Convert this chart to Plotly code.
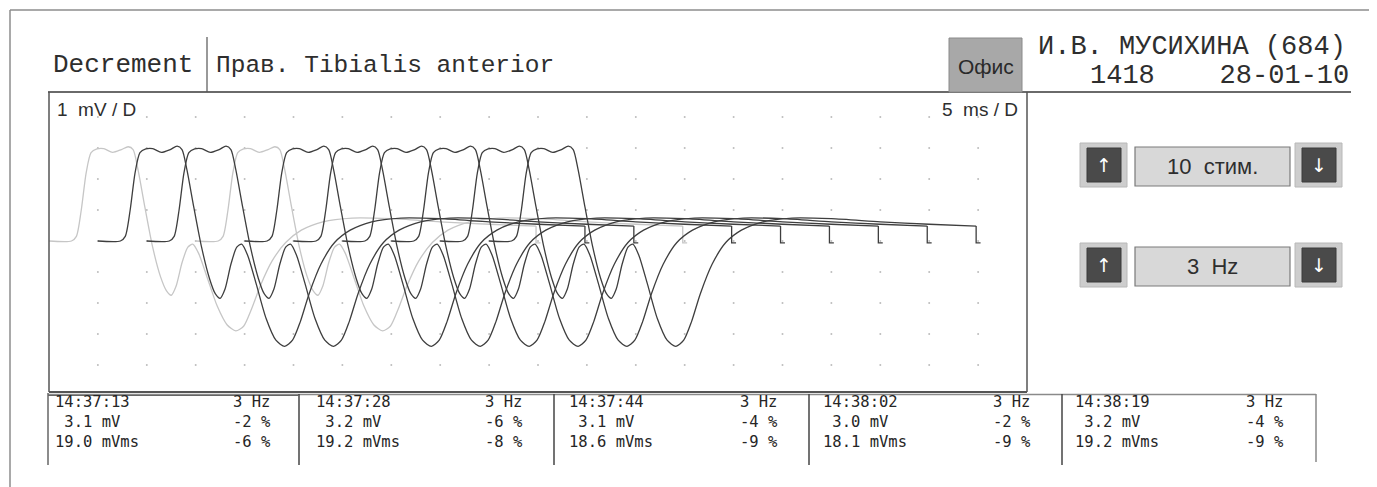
import plotly.graph_objects as go

W, H = 1377, 487
PAGE_OFF = 8                     # browser body margin
FIG_W, FIG_H = W - PAGE_OFF, H - PAGE_OFF

# ---------------- data ----------------
N_STIM = 10                 # number of superimposed responses
SHIFT_MS = 5.0              # cascade shift between successive responses (ms)
LIGHT_TRACES = [0, 3]       # responses drawn in light grey

# one M-response, time relative to its own start (ms) and amplitude (mV)
RESP_T = [0.0, 2.3, 2.8, 3.3, 3.8, 4.3, 4.9, 5.6, 6.5, 7.4, 8.1, 8.6, 9.1, 9.8,
          10.6, 11.4, 12.0, 12.5, 13.0, 13.6, 14.2, 14.7, 15.3, 16.2, 17.2, 18.2,
          19.1, 19.9, 20.7, 21.6, 22.8, 24.2, 25.8, 28.0, 31.0, 35.0, 40.0, 45.0, 49.8]
RESP_DARK = [0.0, 0.0, 0.15, 1.0, 2.2, 2.85, 2.97, 2.98, 2.86, 2.95, 3.06, 2.95, 2.3, 1.1,
             -0.2, -1.2, -1.7, -1.85, -1.55, -0.75, -0.2, -0.1, -0.45, -1.4, -2.5, -3.2,
             -3.4, -3.2, -2.6, -1.7, -0.75, -0.05, 0.35, 0.62, 0.74, 0.72, 0.62, 0.54, 0.48]
RESP_LIGHT = [0.0, 0.0, 0.15, 1.0, 2.2, 2.85, 2.97, 2.98, 2.86, 2.95, 3.04, 2.95, 2.3, 1.1,
              -0.2, -1.15, -1.6, -1.75, -1.45, -0.7, -0.2, -0.1, -0.4, -1.2, -2.1, -2.7,
              -2.9, -2.75, -2.2, -1.45, -0.65, -0.05, 0.35, 0.62, 0.74, 0.72, 0.62, 0.54, 0.48]
# end-of-sweep marker
TICK_T = [49.8, 49.8, 50.25]
TICK_MV = [0.48, -0.06, -0.06]

# header / settings
TEST_NAME = "Decrement"
MUSCLE = "Прав. Tibialis anterior"
PATIENT = "И.В. МУСИХИНА (684)"
REC_LINE = "1418    28-01-10"
OFFICE = "Офис"
V_SCALE = "1  mV / D"
T_SCALE = "5  ms / D"
STIM_COUNT = "10  стим."
STIM_FREQ = "3  Hz"

# bottom table (5 series of stimulation)
SERIES_TIME = ["14:37:13", "14:37:28", "14:37:44", "14:38:02", "14:38:19"]
SERIES_FREQ = ["3 Hz", "3 Hz", "3 Hz", "3 Hz", "3 Hz"]
SERIES_AMP = [" 3.1 mV", " 3.2 mV", " 3.1 mV", " 3.0 mV", " 3.2 mV"]
SERIES_AMP_DEC = ["-2 %", "-6 %", "-4 %", "-2 %", "-4 %"]
SERIES_AREA = ["19.0 mVms", "19.2 mVms", "18.6 mVms", "18.1 mVms", "19.2 mVms"]
SERIES_AREA_DEC = ["-6 %", "-8 %", "-9 %", "-9 %", "-9 %"]

# ---------------- layout helpers (page pixel -> paper) ----------------
def X(px):
    return (px - PAGE_OFF) / FIG_W

def Y(py):
    return 1 - (py - PAGE_OFF) / FIG_H

PLOT_L, PLOT_R, PLOT_T, PLOT_B = 49, 1027, 92, 392
BASE_Y, PX_PER_MV = 241, 31.0
X_RANGE = [0, 100]
Y_RANGE = [-(PLOT_B - BASE_Y) / PX_PER_MV, (BASE_Y - PLOT_T) / PX_PER_MV]

fig = go.Figure()

# dotted division grid
gx, gy = [], []
for i in range(1, 20):
    for j in range(-4, 5):
        gx.append(i * 5)
        gy.append(j)
fig.add_trace(go.Scatter(x=gx, y=gy, mode="markers",
                         marker=dict(size=2, color="#bdbdbd"),
                         hoverinfo="skip", showlegend=False))

order = [k for k in range(N_STIM) if k in LIGHT_TRACES] + \
        [k for k in range(N_STIM) if k not in LIGHT_TRACES]
for k in order:
    light = k in LIGHT_TRACES
    col = "#c6c6c6" if light else "#3e3e3e"
    vals = RESP_LIGHT if light else RESP_DARK
    off = k * SHIFT_MS
    fig.add_trace(go.Scatter(x=[t + off for t in RESP_T], y=vals, mode="lines",
                             line=dict(color=col, width=1.3, shape="spline", smoothing=0.7),
                             hoverinfo="skip", showlegend=False))
    fig.add_trace(go.Scatter(x=[t + off for t in TICK_T], y=TICK_MV, mode="lines",
                             line=dict(color=col, width=1.3),
                             hoverinfo="skip", showlegend=False))

fig.update_xaxes(range=X_RANGE, domain=[X(PLOT_L), X(PLOT_R)], visible=False, fixedrange=True)
fig.update_yaxes(range=Y_RANGE, domain=[Y(PLOT_B), Y(PLOT_T)], visible=False, fixedrange=True)

shapes = []

def line(x0, y0, x1, y1, color="#555555", width=1.5):
    shapes.append(dict(type="line", xref="paper", yref="paper",
                       x0=X(x0), y0=Y(y0), x1=X(x1), y1=Y(y1),
                       line=dict(color=color, width=width)))

def rect(x0, y0, x1, y1, fill, lc=None, lw=0, layer="above"):
    shapes.append(dict(type="rect", xref="paper", yref="paper",
                       x0=X(x0), y0=Y(y0), x1=X(x1), y1=Y(y1), fillcolor=fill,
                       line=dict(color=lc or fill, width=lw), layer=layer))

# outer frame
line(10, 10, 10, 487, "#8c8c8c", 1.5)
line(10, 10, 1377, 10, "#8c8c8c", 1.5)
# header
line(48, 92, 1351, 92, "#6a6a6a", 2)
line(207, 37, 207, 92, "#555555", 1.2)
rect(949, 38, 1022, 92, "#a8a8a8", "#8a8a8a", 1)
# plot frame
line(PLOT_L, PLOT_T, PLOT_L, PLOT_B, "#555555", 1.5)
line(PLOT_R, PLOT_T, PLOT_R, PLOT_B, "#555555", 1.5)
line(PLOT_L, PLOT_B, PLOT_R, PLOT_B, "#555555", 1.8)
line(48, 394.5, 1316, 394.5, "#8a8a8a", 1.5)
# table
line(48, 393, 48, 465, "#666666", 1.5)
line(1316, 394, 1316, 462, "#888888", 1.5)
for xs in [299, 554, 809, 1062]:
    line(xs, 394, xs, 465, "#444444", 1.5)
line(48, 395.5, 299, 395.5, "#666666", 1.2)

# control buttons
for yt, yb in [(143, 187), (243, 287)]:
    for bx in [1080, 1295]:
        rect(bx, yt, bx + 47, yb, "#cdcdcd", "#b8b8b8", 1)
        rect(bx + 7, yt + 5, bx + 41, yb - 5, "#4a4a4a", "#3a3a3a", 1)
    rect(1135, yt + 4, 1290, yb - 1, "#d8d8d8", "#7a7a7a", 1.2)

fig.update_layout(shapes=shapes)

ann = []

def text(x, y, s, size, xanchor="left", color="#2e2e2e", family="Liberation Sans"):
    ann.append(dict(xref="paper", yref="paper", x=X(x), y=Y(y), text=s,
                    showarrow=False, xanchor=xanchor, yanchor="middle",
                    align=xanchor if xanchor != "center" else "center",
                    font=dict(size=size, color=color, family=family)))

MONO = "Liberation Mono"
text(51, 65, TEST_NAME, 26, family=MONO)
text(214, 65, MUSCLE, 24.5, family=MONO)
text(985.5, 66, OFFICE, 21, "center", "#2a2a2a")
text(1348, 47, PATIENT, 27, "right", family=MONO)
text(1351, 76, REC_LINE, 27, "right", family=MONO)
text(55, 110, V_SCALE, 19)
text(1020, 110, T_SCALE, 19, "right")

for yc in [165, 265]:
    text(1103.5, yc, "↑", 19, "center", "#ffffff", "DejaVu Sans")
    text(1318.5, yc, "↓", 19, "center", "#ffffff", "DejaVu Sans")
text(1212, 166, STIM_COUNT, 22, "center")
text(1212, 266, STIM_FREQ, 22, "center")

TMONO = "DejaVu Sans Mono"
LEFTS = [53, 314, 567, 821, 1073]
RIGHTS = [273, 525, 780, 1033, 1286]
for i in range(5):
    left_block = "<br>".join([SERIES_TIME[i], SERIES_AMP[i], SERIES_AREA[i]])
    right_block = "<br>".join([SERIES_FREQ[i], SERIES_AMP_DEC[i], SERIES_AREA_DEC[i]])
    text(LEFTS[i], 422, left_block, 15.5, family=TMONO, color="#262626")
    text(RIGHTS[i], 422, right_block, 15.5, "right", family=TMONO, color="#262626")

fig.update_layout(annotations=ann, width=FIG_W, height=FIG_H, autosize=False,
                  margin=dict(l=0, r=0, t=0, b=0, pad=0),
                  paper_bgcolor="white", plot_bgcolor="white", showlegend=False)

fig.write_html("out.html")
